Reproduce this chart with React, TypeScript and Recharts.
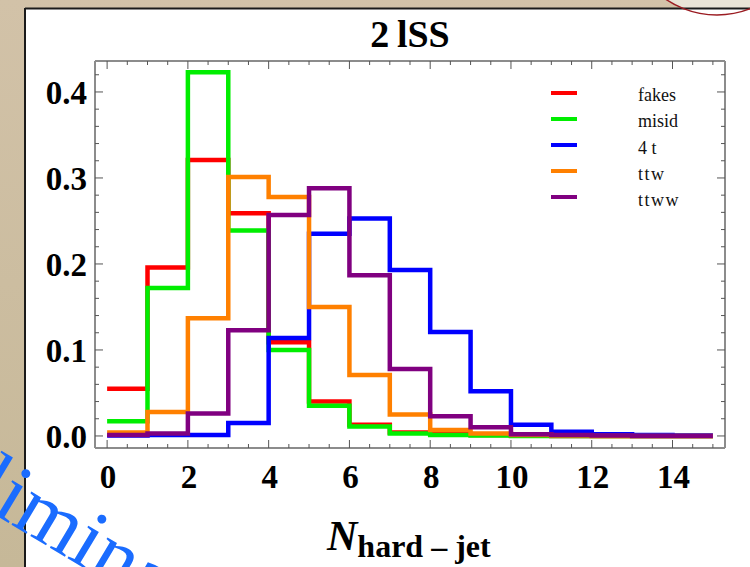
import React from 'react';
import { LineChart, Line, XAxis, YAxis, Legend } from 'recharts';

// bin left edges 0..14, histogram closes at 15
const binEdges = [0, 1, 2, 3, 4, 5, 6, 7, 8, 9, 10, 11, 12, 13, 14, 15];

const fakes = [0.055, 0.196, 0.321, 0.259, 0.109, 0.040, 0.013, 0.004, 0.002, 0.001, 0.0005, 0, 0, 0, 0];
const misid = [0.017, 0.172, 0.423, 0.239, 0.100, 0.035, 0.011, 0.003, 0.001, 0.0005, 0, 0, 0, 0, 0];
const fourT = [0.0005, 0.001, 0.001, 0.015, 0.114, 0.235, 0.253, 0.193, 0.121, 0.052, 0.013, 0.005, 0.002, 0.001, 0.0005];
const ttw = [0.004, 0.028, 0.137, 0.301, 0.278, 0.150, 0.071, 0.025, 0.007, 0.003, 0.001, 0.0005, 0, 0, 0];
const ttww = [0.001, 0.003, 0.026, 0.123, 0.257, 0.288, 0.187, 0.078, 0.023, 0.010, 0.002, 0.001, 0.0005, 0, 0];

const xTicks = [0, 0.5, 1, 1.5, 2, 2.5, 3, 3.5, 4, 4.5, 5, 5.5, 6, 6.5, 7, 7.5, 8, 8.5, 9, 9.5, 10, 10.5, 11, 11.5, 12, 12.5, 13, 13.5, 14, 14.5, 15];
const xLabels = [0, 2, 4, 6, 8, 10, 12, 14];
const yTicks = [0, 0.02, 0.04, 0.06, 0.08, 0.1, 0.12, 0.14, 0.16, 0.18, 0.2, 0.22, 0.24, 0.26, 0.28, 0.3, 0.32, 0.34, 0.36, 0.38, 0.4, 0.42];
const yLabels = [0, 0.1, 0.2, 0.3, 0.4];

const series = [
    { key: 'fakes', name: 'fakes', values: fakes, color: '#ff0000' },
    { key: 'misid', name: 'misid', values: misid, color: '#00ee00' },
    { key: 'fourT', name: '4 t', values: fourT, color: '#0000ff' },
    { key: 'ttw', name: 'ttw', values: ttw, color: '#ff8000' },
    { key: 'ttww', name: 'ttww', values: ttww, color: '#800080' },
];

const data = binEdges.map((n, i) => {
    const row: Record<string, number> = { n };
    series.forEach((s) => {
        row[s.key] = s.values[Math.min(i, s.values.length - 1)];
    });
    return row;
});

const SERIF = '"Liberation Serif", "Times New Roman", serif';
const TICK = '#555';
const FRAME = { stroke: '#8c8c8c', strokeWidth: 2 };

const BottomTick = ({ x, y, payload }: any) => {
    const major = xLabels.includes(payload.value);
    return (
        <g>
            <line x1={x} x2={x} y1={y} y2={y - (major ? 8 : 4)} stroke={TICK} />
            {major && (
                <text x={x + 1} y={y + 40} textAnchor="middle" fontFamily={SERIF} fontWeight="bold" fontSize={33} fill="#000">
                    {payload.value}
                </text>
            )}
        </g>
    );
};

const TopTick = ({ x, y, payload }: any) => {
    const major = xLabels.includes(payload.value);
    return <line x1={x} x2={x} y1={y} y2={y + (major ? 8 : 4)} stroke={TICK} />;
};

const LeftTick = ({ x, y, payload }: any) => {
    const major = yLabels.includes(payload.value);
    return (
        <g>
            <line x1={x} x2={x + (major ? 8 : 4)} y1={y} y2={y} stroke={TICK} />
            {major && (
                <text x={x - 8} y={y + 12} textAnchor="end" fontFamily={SERIF} fontWeight="bold" fontSize={33} fill="#000">
                    {payload.value.toFixed(1)}
                </text>
            )}
        </g>
    );
};

const RightTick = ({ x, y, payload }: any) => {
    const major = yLabels.includes(payload.value);
    return <line x1={x} x2={x - (major ? 8 : 4)} y1={y} y2={y} stroke={TICK} />;
};

const renderLegend = (props: any) => {
    // keep the plotting order, not the alphabetical one
    const items = [...props.payload].sort(
        (a: any, b: any) => series.findIndex((s) => s.name === a.value) - series.findIndex((s) => s.name === b.value)
    );
    return (
        <div>
            {items.map((item: any) => (
                <div key={item.value} style={{ display: 'flex', alignItems: 'center', height: 26.2 }}>
                    <span style={{ display: 'inline-block', width: 26, height: 4, background: item.color }} />
                    <span
                        style={{
                            marginLeft: 61,
                            fontFamily: SERIF,
                            fontSize: 18,
                            color: '#111',
                            position: 'relative',
                            top: 3,
                            letterSpacing: item.value.startsWith('tt') ? 1.5 : 0,
                        }}
                    >
                        {item.value}
                    </span>
                </div>
            ))}
        </div>
    );
};

export default function App() {
    return (
        <div style={{ position: 'absolute', left: 0, top: 0, width: 750, height: 567, overflow: 'hidden' }}>
            {/* paper background + white panel */}
            <svg width={750} height={567} style={{ position: 'absolute', left: 0, top: 0 }}>
                <defs>
                    <linearGradient id="paper" x1="0" y1="0" x2="0" y2="1">
                        <stop offset="0%" stopColor="#d2c2a8" />
                        <stop offset="100%" stopColor="#c6b898" />
                    </linearGradient>
                </defs>
                <rect x={0} y={0} width={750} height={567} fill="url(#paper)" />
                <circle cx={717} cy={-76} r={91} fill="#e9e3d6" />
                <rect x={25} y={8} width={725} height={559} fill="#ffffff" />
                <line x1={25} x2={750} y1={8.5} y2={8.5} stroke="#1a1a1a" strokeWidth={2} />
                <line x1={25} x2={25} y1={8} y2={567} stroke="#1a1a1a" strokeWidth={2} />
            </svg>

            <div style={{ position: 'absolute', left: 0, top: 0 }}>
                <LineChart width={750} height={567} data={data} margin={{ top: 60, right: 24, bottom: 118, left: 94 }}>
                    <XAxis
                        dataKey="n"
                        type="number"
                        domain={[-0.3, 15.3]}
                        ticks={xTicks}
                        interval={0}
                        height={1}
                        tickSize={0}
                        tickMargin={0}
                        tickLine={false}
                        tick={<BottomTick />}
                        axisLine={FRAME}
                        allowDataOverflow
                    />
                    <XAxis
                        xAxisId="top"
                        orientation="top"
                        dataKey="n"
                        type="number"
                        domain={[-0.3, 15.3]}
                        ticks={xTicks}
                        interval={0}
                        height={1}
                        tickSize={0}
                        tickMargin={0}
                        tickLine={false}
                        tick={<TopTick />}
                        axisLine={FRAME}
                        allowDataOverflow
                    />
                    <YAxis
                        type="number"
                        domain={[-0.014, 0.436]}
                        ticks={yTicks}
                        interval={0}
                        width={1}
                        tickSize={0}
                        tickMargin={0}
                        tickLine={false}
                        tick={<LeftTick />}
                        axisLine={FRAME}
                        allowDataOverflow
                    />
                    <YAxis
                        yAxisId="right"
                        orientation="right"
                        type="number"
                        domain={[-0.014, 0.436]}
                        ticks={yTicks}
                        interval={0}
                        width={1}
                        tickSize={0}
                        tickMargin={0}
                        tickLine={false}
                        tick={<RightTick />}
                        axisLine={FRAME}
                        allowDataOverflow
                    />
                    {series.map((s) => (
                        <Line
                            key={s.key}
                            type="stepAfter"
                            dataKey={s.key}
                            name={s.name}
                            stroke={s.color}
                            strokeWidth={4.5}
                            strokeLinejoin="miter"
                            dot={false}
                            activeDot={false}
                            isAnimationActive={false}
                        />
                    ))}
                    <Legend
                        layout="vertical"
                        align="center"
                        verticalAlign="middle"
                        content={renderLegend}
                        wrapperStyle={{ position: 'absolute', left: 551, top: 79.6, width: 160 }}
                    />
                </LineChart>
            </div>

            {/* title, axis label, stamp */}
            <svg width={750} height={567} style={{ position: 'absolute', left: 0, top: 0, pointerEvents: 'none' }}>
                <text x={410} y={47} textAnchor="middle" fontFamily={SERIF} fontWeight="bold" fontSize={38} fill="#000">
                    2{'\u2009'}lSS
                </text>
                <text x={327} y={550} fontFamily={SERIF} fontWeight="bold" fill="#000">
                    <tspan fontStyle="italic" fontSize={42}>N</tspan>
                    <tspan fontSize={32} dy={7}>hard – jet</tspan>
                </text>
                <circle cx={717} cy={-76} r={91} fill="none" stroke="#9b1c22" strokeWidth={1.5} />
                <text x={-126} y={442} transform="rotate(31 -126 442)" fontFamily={SERIF} fontSize={84} fill="#1a6cff">
                    Preliminary
                </text>
            </svg>
        </div>
    );
}
